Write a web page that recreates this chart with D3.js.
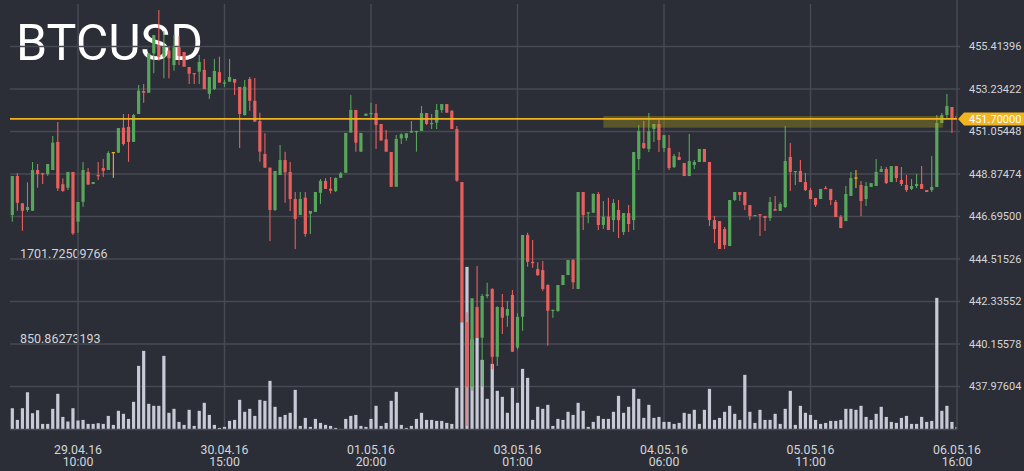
<!DOCTYPE html>
<html><head><meta charset="utf-8">
<script src="https://cdn.jsdelivr.net/npm/d3@7"></script>
<style>html,body{margin:0;padding:0;background:#2b2e36;overflow:hidden}svg{display:block}</style>
</head><body>
<script>
const symbol = "BTCUSD";
const firstCandle = "2016-04-28T21:00:00Z";
const open = [446.77,448.77,447.37,447.03,446.99,449.08,448.91,448.87,449.08,450.52,
448.35,448.17,448.98,446.43,447.45,448.98,448.36,448.82,449.18,449.08,
450.00,449.97,451.25,451.29,450.52,451.95,453.13,453.04,455.06,455.49,
454.89,455.20,454.46,455.37,455.13,454.36,454.05,454.12,454.21,452.99,
453.23,454.10,453.56,453.61,453.75,453.34,451.90,453.75,452.63,451.59,
449.90,449.20,447.03,448.82,449.59,448.98,447.59,446.77,447.66,446.84,
446.93,447.91,448.52,448.12,448.00,448.68,448.94,451.00,452.16,450.02,
451.86,451.99,452.00,451.44,450.65,450.00,448.22,450.70,450.72,451.00,
451.03,451.08,452.00,451.47,451.51,452.16,452.46,452.11,451.18,448.46,
441.27,437.97,442.05,440.48,442.62,442.98,439.50,442.04,441.61,442.67,
439.97,441.55,445.75,444.37,444.00,443.95,443.18,441.90,441.85,443.18,
443.69,444.46,442.98,447.95,446.86,446.89,447.85,446.26,446.69,446.51,
447.03,445.90,446.87,446.51,449.64,450.46,450.16,451.18,451.44,450.21,
450.21,449.23,449.75,449.44,448.77,449.34,449.49,450.16,449.49,446.51,
446.46,446.05,445.18,447.54,447.95,447.95,447.28,446.74,446.81,446.72,
446.62,447.08,446.98,447.18,449.75,448.98,449.03,448.46,448.05,447.64,
447.59,448.16,448.11,447.44,446.67,446.46,447.75,448.70,448.31,447.59,
448.21,448.26,448.98,449.13,448.46,449.28,448.57,448.31,448.11,448.26,
448.36,448.05,448.05,448.21,451.49,451.90,452.31,451.85];
const high = [448.77,448.91,447.37,448.45,449.49,449.39,448.94,449.39,450.82,451.54,
448.65,448.98,448.98,447.44,449.49,449.18,448.46,449.49,449.64,450.04,
450.00,451.23,451.95,451.95,451.95,453.44,453.49,455.06,456.00,457.29,
456.21,455.40,456.00,455.95,455.13,454.36,454.05,454.98,454.77,453.85,
454.77,454.89,453.70,454.77,453.75,453.34,453.70,453.85,453.80,452.02,
450.96,449.20,449.03,450.36,450.02,449.49,447.95,447.95,447.95,446.98,
447.95,448.62,448.66,448.72,448.70,448.98,450.98,452.93,452.16,450.98,
451.97,452.53,452.46,451.44,451.13,450.00,450.87,450.96,450.96,451.59,
451.09,452.36,452.00,451.95,452.46,452.46,452.46,452.16,451.34,448.46,
441.78,442.50,444.16,442.72,443.30,443.01,442.09,442.72,442.36,442.93,
441.73,445.75,445.86,445.49,444.35,444.41,443.22,441.91,443.18,443.69,
444.46,444.51,447.95,447.95,446.91,447.89,447.95,447.49,447.66,447.59,
447.54,446.87,447.28,450.00,451.39,451.59,452.00,451.44,451.64,450.87,
450.87,449.90,450.00,449.44,450.93,449.59,450.16,450.16,449.49,446.72,
446.46,446.16,447.54,447.95,447.95,447.95,447.28,446.77,446.82,446.72,
447.69,447.75,447.44,451.34,450.46,449.03,449.59,448.93,448.16,447.64,
448.11,448.26,448.11,447.54,446.77,448.26,448.98,449.08,448.51,448.46,
448.41,449.64,449.28,449.23,449.28,449.28,449.23,448.82,448.62,448.87,
449.28,448.05,449.80,451.90,452.00,452.98,452.31,451.95];
const low = [446.43,446.99,445.97,446.94,446.99,448.17,448.36,448.79,449.08,448.00,
447.97,448.05,445.75,445.86,447.20,448.33,448.36,448.57,448.74,449.08,
448.68,449.95,450.33,449.50,450.52,451.95,452.53,453.04,454.04,454.68,
453.78,453.78,454.17,454.46,454.38,453.49,453.49,453.49,453.23,452.72,
453.18,453.56,453.35,453.61,452.93,450.21,451.86,452.12,451.56,449.50,
449.20,445.44,446.98,448.82,447.40,446.98,445.03,446.77,445.66,445.80,
446.93,447.34,448.11,447.88,447.95,448.68,448.94,451.00,450.02,450.00,
451.86,451.73,450.16,450.57,450.02,448.22,448.22,450.41,450.58,451.00,
450.02,451.08,451.39,451.18,451.18,452.02,452.02,451.18,448.48,441.28,
435.95,437.76,440.48,437.97,442.50,438.86,439.03,440.67,441.04,439.76,
439.88,440.84,444.12,444.07,443.64,442.89,440.07,441.50,441.81,443.18,
443.69,442.98,442.98,446.00,446.35,446.89,446.00,446.05,446.00,445.90,
445.59,445.75,445.90,446.00,449.08,450.16,450.00,450.52,450.00,450.00,
449.08,449.18,449.59,448.77,448.77,449.13,449.49,449.49,446.21,445.34,
445.03,445.03,445.18,447.49,447.49,447.03,446.51,446.74,445.69,445.95,
446.46,446.99,446.98,447.13,448.00,448.31,448.46,448.00,447.59,447.18,
447.59,448.11,447.28,446.67,446.10,446.46,447.75,448.16,446.72,447.23,
448.21,448.26,448.98,448.36,448.46,448.46,448.26,447.95,448.05,448.16,
448.11,447.95,447.95,448.21,451.49,451.75,450.98,451.65];
const close = [448.77,447.40,446.99,447.18,449.08,448.87,448.86,449.39,450.48,448.14,
448.00,448.98,445.83,447.44,449.08,448.33,448.46,448.77,449.04,449.95,
450.00,451.23,450.41,450.52,451.90,453.15,453.04,455.06,456.00,454.86,
455.40,454.81,455.37,454.93,454.38,454.02,454.04,454.62,453.23,453.85,
454.16,453.56,453.57,453.85,453.56,451.95,453.35,452.63,451.56,450.02,
449.20,447.03,449.03,449.59,448.96,447.59,446.57,447.59,445.80,446.98,
447.95,448.52,448.11,448.02,448.67,448.91,450.98,452.16,450.48,450.98,
451.97,452.00,451.39,450.60,450.02,448.22,450.67,450.91,450.96,451.08,
451.08,452.00,451.44,451.49,452.16,452.46,452.02,451.18,448.53,441.28,
437.97,442.50,440.48,442.62,442.70,439.50,442.05,441.50,441.95,439.76,
441.55,445.75,444.37,444.30,443.69,442.98,441.86,441.91,443.18,443.69,
444.46,443.32,447.95,446.77,446.91,447.85,446.26,446.69,446.00,447.39,
446.51,446.87,446.31,450.00,451.08,450.21,451.08,451.44,450.62,450.87,
449.18,449.80,449.59,448.77,449.54,449.49,450.16,449.49,446.51,446.05,
445.03,445.23,447.54,447.95,447.80,447.28,446.72,446.77,446.76,446.62,
447.44,446.99,447.34,449.54,448.98,449.03,448.46,448.05,447.59,447.28,
448.11,448.11,447.54,446.67,446.10,447.85,448.67,448.70,447.49,448.26,
448.41,448.98,449.13,448.41,449.28,448.67,448.36,448.05,448.26,448.36,
448.11,447.95,448.21,451.49,451.90,452.36,451.70,451.70];
const volume = [210,93,210,370,160,190,53,53,204,354,
123,77,210,87,93,53,53,60,53,133,
43,184,154,103,274,634,784,254,234,234,
734,164,204,73,43,194,33,184,264,143,
43,13,23,83,93,294,174,204,133,294,
284,484,224,123,143,164,394,33,113,23,
103,63,43,33,13,3,103,133,143,33,
23,103,234,33,63,284,374,43,13,33,
103,164,93,93,83,83,63,53,414,1071,
1625,900,918,694,304,654,384,324,164,414,
264,604,514,93,224,204,244,33,103,93,
174,143,264,184,23,73,133,103,103,174,
334,164,224,404,304,113,244,113,123,73,
73,53,63,164,154,194,53,194,404,93,
113,174,234,154,93,544,174,63,194,93,
93,154,53,204,384,43,234,164,143,93,
53,63,83,83,93,204,204,194,234,123,
93,154,224,123,73,63,113,133,53,53,
123,73,83,1315,184,234,73,23];
const priceTicks = [437.97604,440.15578,442.33552,444.51526,446.69500,448.87474,451.05448,453.23422,455.41396];
const volumeTicks = [850.86273193,1701.72509766];
const timeTicks = ["2016-04-29T10:00:00Z","2016-04-30T15:00:00Z","2016-05-01T20:00:00Z","2016-05-03T01:00:00Z","2016-05-04T06:00:00Z","2016-05-05T11:00:00Z","2016-05-06T16:00:00Z"];
const lastPrice = 451.70;
const zoneStart = "2016-05-03T18:00:00Z", zoneEnd = "2016-05-06T13:15:00Z";
const zoneLow = 451.25, zoneHigh = 451.85;

const W = 1024, H = 471;
const L = 10, R = 957, B = 429.5;
const C = {bg:"#2b2e36", grid:"#474a53", up:"#58a65b", down:"#e8605e", doji:"#f2b321", vol:"#c8c9d7", text:"#d4d5d9"};
const FONT = "Roboto, 'Open Sans', sans-serif";

const t0 = new Date(firstCandle).getTime();
const data = open.map((o,i)=>({t:new Date(t0 + i*3600e3), o, h:high[i], l:low[i], c:close[i], v:volume[i]}));

const x = d3.scaleUtc().domain([new Date(timeTicks[0]), new Date(timeTicks[timeTicks.length-1])]).range([78, 957]);
const y = d3.scaleLinear().domain([priceTicks[0], priceTicks[priceTicks.length-1]]).range([386.5, 46.5]);
const yv = d3.scaleLinear().domain([0, volumeTicks[1]]).range([429.2, 259.2]);

const svg = d3.select("body").append("svg").attr("width",W).attr("height",H).style("font-family",FONT);
svg.append("rect").attr("width",W).attr("height",H).attr("fill",C.bg);
svg.append("defs").append("clipPath").attr("id","plot").append("rect").attr("x",L).attr("y",0).attr("width",R-L).attr("height",B);

svg.append("text").attr("x",16).attr("y",60).attr("fill","#ffffff").attr("font-size",50).attr("font-weight",400).text(symbol);

// volume labels (under the grid)
svg.selectAll("text.vy").data(volumeTicks).join("text").attr("x",20).attr("y",d=>yv(d)-1.5)
  .attr("fill",C.text).attr("font-size",12.5).text(d=>d.toFixed(8));

// grid
const g = svg.append("g");
g.selectAll("line.h").data(priceTicks).join("line").attr("x1",L).attr("x2",960)
  .attr("y1",d=>y(d)).attr("y2",d=>y(d)).attr("stroke",C.grid).attr("stroke-width",1.5);
g.selectAll("line.v").data(timeTicks.slice(0,-1)).join("line").attr("x1",d=>x(new Date(d))).attr("x2",d=>x(new Date(d)))
  .attr("y1",4).attr("y2",B).attr("stroke",C.grid).attr("stroke-width",1.5);

const plot = svg.append("g").attr("clip-path","url(#plot)");
const bw = 3.2;
plot.selectAll("rect.vol").data(data).join("rect").attr("x",d=>x(d.t)-bw/2).attr("width",bw)
  .attr("y",d=>yv(d.v)).attr("height",d=>yv(0)-yv(d.v)).attr("fill",C.vol);

const col = d=> d.c>d.o?C.up:(d.c<d.o?C.down:C.doji);
plot.selectAll("line.wick").data(data).join("line").attr("x1",d=>x(d.t)).attr("x2",d=>x(d.t))
  .attr("y1",d=>y(d.h)).attr("y2",d=>y(d.l)).attr("stroke",col).attr("stroke-width",1.1);
plot.selectAll("rect.body").data(data).join("rect").attr("x",d=>x(d.t)-bw/2).attr("width",bw)
  .attr("y",d=>Math.min(y(d.o),y(d.c))).attr("height",d=>Math.max(1.2,Math.abs(y(d.o)-y(d.c)))).attr("fill",col);

// zone
plot.append("rect").attr("x",x(new Date(zoneStart))).attr("width",x(new Date(zoneEnd))-x(new Date(zoneStart)))
  .attr("y",y(zoneHigh)).attr("height",y(zoneLow)-y(zoneHigh)).attr("fill","#b8a914").attr("opacity",0.33);

// axes lines
svg.append("line").attr("x1",R).attr("x2",R).attr("y1",0).attr("y2",B).attr("stroke",C.grid).attr("stroke-width",1.5);
svg.append("line").attr("x1",L).attr("x2",R).attr("y1",B).attr("y2",B).attr("stroke",C.grid).attr("stroke-width",1.5);

// last price line + marker
svg.append("line").attr("x1",L).attr("x2",R).attr("y1",y(lastPrice)).attr("y2",y(lastPrice)).attr("stroke",C.doji).attr("stroke-width",1.6);

// price labels
svg.selectAll("text.py").data(priceTicks).join("text").attr("x",969).attr("y",d=>y(d)).attr("dy","0.35em")
  .attr("fill",C.text).attr("font-size",11).text(d=>d.toFixed(5));

const my = y(lastPrice);
svg.append("path").attr("d",`M958,${my} L964,${my-6.5} L1024,${my-6.5} L1024,${my+6.5} L964,${my+6.5} Z`).attr("fill",C.doji);
svg.append("text").attr("x",969).attr("y",my).attr("dy","0.35em").attr("fill","#ffffff").attr("font-size",11).text(lastPrice.toFixed(5));

// time labels
const f1 = d3.utcFormat("%d.%m.%y"), f2 = d3.utcFormat("%H:%M");
const tl = svg.selectAll("g.tl").data(timeTicks).join("g").attr("transform",d=>`translate(${x(new Date(d))},0)`);
tl.append("text").attr("y",453.5).attr("text-anchor","middle").attr("fill",C.text).attr("font-size",12.3).text(d=>f1(new Date(d)));
tl.append("text").attr("y",466).attr("text-anchor","middle").attr("fill",C.text).attr("font-size",12.3).text(d=>f2(new Date(d)));
</script>
</body></html>
